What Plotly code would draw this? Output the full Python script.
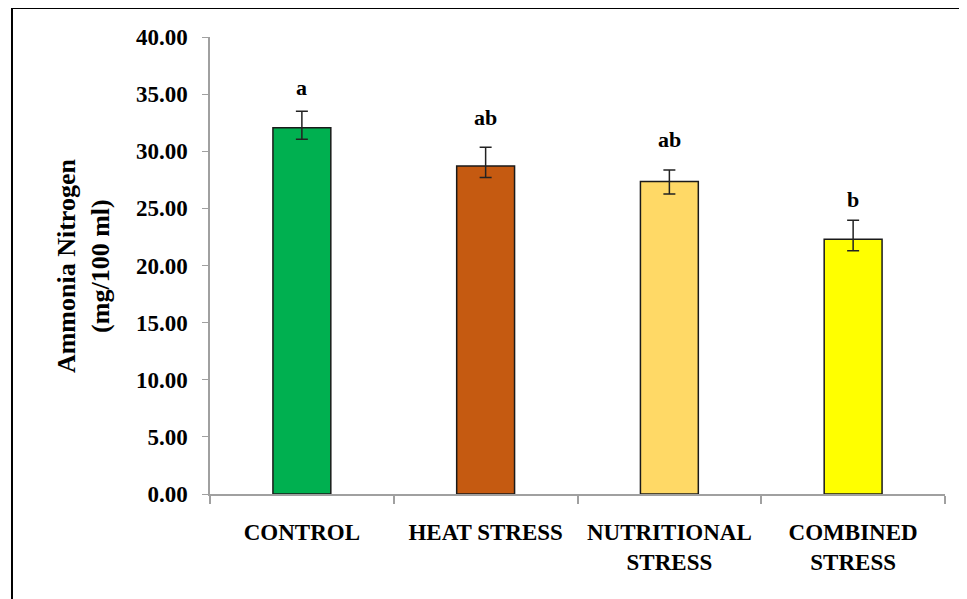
import plotly.graph_objects as go

categories = ["CONTROL", "HEAT STRESS", "NUTRITIONAL<br>STRESS", "COMBINED<br>STRESS"]
values = [32.05, 28.70, 27.35, 22.30]
err_plus = [1.45, 1.65, 1.00, 1.65]
err_minus = [1.00, 1.00, 1.10, 1.00]
bar_colors = ["#00B050", "#C55A11", "#FFD966", "#FFFF00"]
sig_letters = ["a", "ab", "ab", "b"]
letter_y = [34.9, 32.3, 30.4, 25.1]
y_ticks = [0, 5, 10, 15, 20, 25, 30, 35, 40]

FONT = "'Liberation Serif', 'Times New Roman', Times, serif"

fig = go.Figure()
fig.add_trace(go.Bar(
    x=categories,
    y=values,
    width=0.315,
    marker=dict(color=bar_colors, line=dict(color="#1a1a1a", width=1.5)),
    error_y=dict(type="data", symmetric=False, array=err_plus, arrayminus=err_minus,
                 color="#222222", thickness=1.5, width=6),
    showlegend=False,
))

for c, lab, ly in zip(categories, sig_letters, letter_y):
    fig.add_annotation(x=c, y=ly, text=lab, showarrow=False,
                       yanchor="bottom", yshift=-7,
                       font=dict(family=FONT, size=22, color="black", weight="bold"))

fig.add_annotation(xref="paper", yref="paper", x=-0.172, y=0.5,
                   text="Ammonia Nitrogen<br>(mg/100 ml)", textangle=-90,
                   showarrow=False, xanchor="center", yanchor="middle",
                   font=dict(family=FONT, size=26, color="black", weight="bold"))

# figure frame (top and left edges visible)
fig.add_shape(type="line", xref="paper", yref="paper", x0=-0.2694, x1=1.03, y0=1.0635, y1=1.0635,
              line=dict(color="black", width=2))
fig.add_shape(type="line", xref="paper", yref="paper", x0=-0.2694, x1=-0.2694, y0=1.0635, y1=-0.3,
              line=dict(color="black", width=2))

fig.update_layout(
    width=967, height=599,
    margin=dict(l=202, r=30, t=29, b=113),
    paper_bgcolor="white", plot_bgcolor="white",
    bargap=0.685,
    font=dict(family=FONT, color="black"),
)
fig.update_yaxes(
    range=[0, 40], tickvals=y_ticks, tickformat=".2f",
    ticks="outside", ticklen=6, tickcolor="#a0a0a0", tickwidth=1,
    showline=True, linecolor="#a0a0a0", linewidth=1.5,
    showgrid=False, zeroline=False,
    tickfont=dict(family=FONT, size=23, color="black", weight="bold"),
    ticklabelstandoff=10,
)
fig.update_xaxes(
    ticks="outside", tickson="boundaries", ticklen=8, tickcolor="#a0a0a0", tickwidth=1.5,
    showline=True, linecolor="#a0a0a0", linewidth=1.5, showgrid=False,
    tickfont=dict(family=FONT, size=23, color="black", weight="bold"),
    ticklabelstandoff=17,
)

fig.write_html("out.html")
